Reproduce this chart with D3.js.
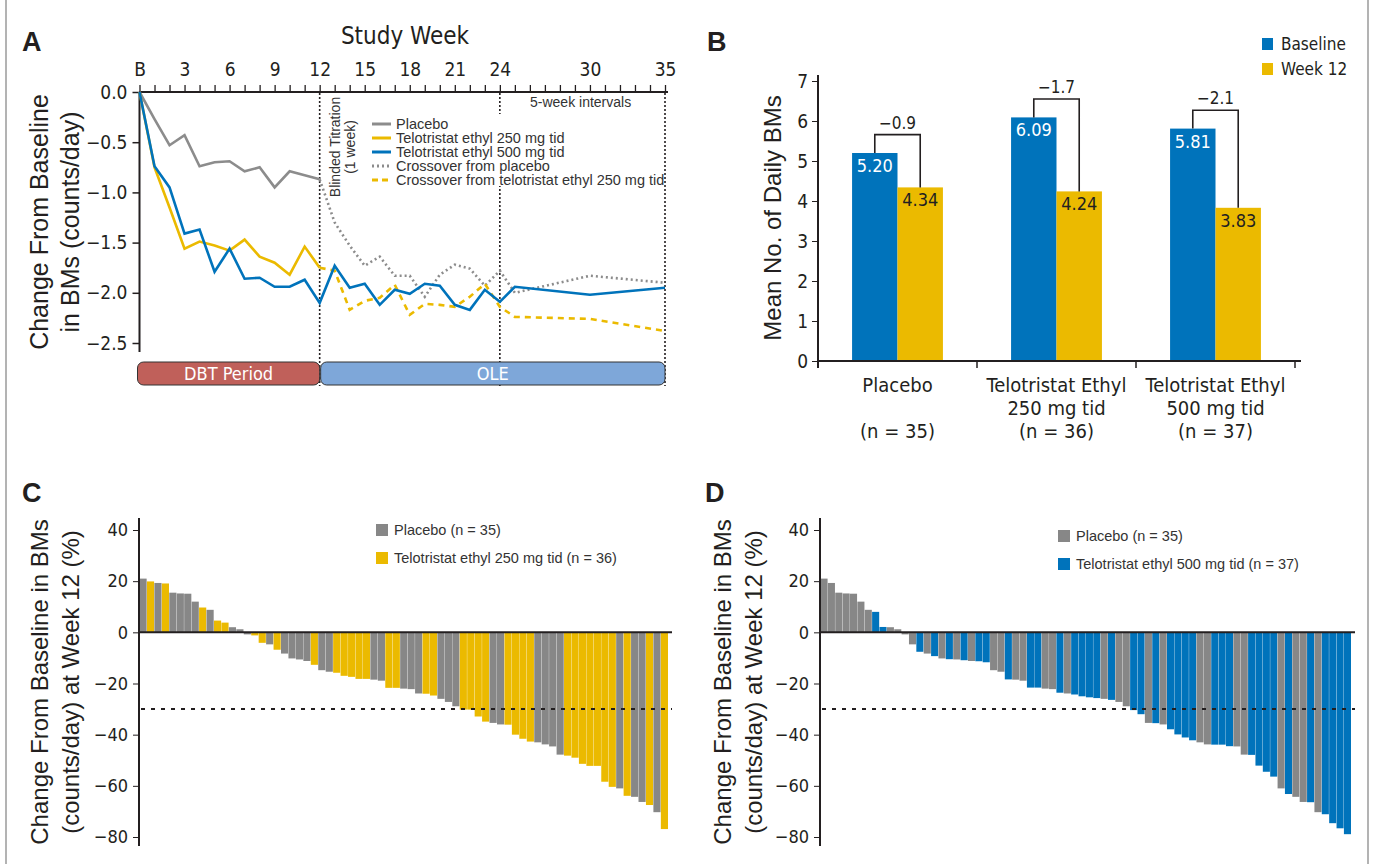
<!DOCTYPE html>
<html>
<head>
<meta charset="utf-8">
<script src="https://cdn.jsdelivr.net/npm/d3@7"></script>
<style>
  body { margin: 0; background: #fff; }
  svg { display: block; }
</style>
</head>
<body>
<svg id="chart" width="1376" height="864"></svg>
<script>
// ---------- Panel A: change from baseline by study week ----------
const dbtWeeks = [0, 1, 2, 3, 4, 5, 6, 7, 8, 9, 10, 11, 12];
const placeboDbt = [0, -0.27, -0.53, -0.43, -0.74, -0.70, -0.69, -0.79, -0.75, -0.95, -0.79, -0.83, -0.87];
const tid250Dbt = [0, -0.75, -1.15, -1.56, -1.49, -1.53, -1.58, -1.47, -1.64, -1.70, -1.82, -1.54, -1.75];
const tid500Dbt = [0, -0.74, -0.95, -1.41, -1.37, -1.79, -1.56, -1.86, -1.85, -1.94, -1.94, -1.87, -2.10];
const oleWeeks = [12, 13, 14, 15, 16, 17, 18, 19, 20, 21, 22, 23, 24, 25, 30, 35];
const tid500Ole = [-2.10, -1.73, -1.95, -1.91, -2.12, -1.97, -2.01, -1.91, -1.93, -2.12, -2.17, -1.97, -2.09, -1.94, -2.02, -1.95];
const crossPlaceboOle = [-0.87, -1.30, -1.53, -1.73, -1.64, -1.83, -1.83, -2.04, -1.82, -1.72, -1.76, -1.93, -1.78, -2.00, -1.83, -1.90];
const cross250Ole = [-1.75, -1.78, -2.17, -2.08, -2.05, -1.92, -2.22, -2.11, -2.12, -2.14, -2.04, -1.91, -2.14, -2.24, -2.26, -2.38];
const weekTickValues = [0, 3, 6, 9, 12, 15, 18, 21, 24, 30, 35];
const weekTickLabels = ['B', '3', '6', '9', '12', '15', '18', '21', '24', '30', '35'];
const changeTicks = [0, -0.5, -1, -1.5, -2, -2.5];
const periodMarks = [12, 24, 35];

// ---------- Panel B: mean daily BMs ----------
const groupNames = ['Placebo', 'Telotristat Ethyl 250 mg tid', 'Telotristat Ethyl 500 mg tid'];
const groupLines = [['Placebo', ''], ['Telotristat Ethyl', '250 mg tid'], ['Telotristat Ethyl', '500 mg tid']];
const groupN = ['(n = 35)', '(n = 36)', '(n = 37)'];
const seriesNames = ['Baseline', 'Week 12'];
const baselineMeans = [5.20, 6.09, 5.81];
const week12Means = [4.34, 4.24, 3.83];
const meanChanges = [-0.9, -1.7, -2.1];

// ---------- Panels C and D: % change per patient at week 12 ----------
const placeboPct = [21.0, 19.3, 15.5, 15.2, 15.1, 12.0, 8.8, 2.0, 1.2, -0.8, -4.7, -8.3, -10.2, -10.6, -11.2,
  -14.8, -15.4, -18.5, -18.9, -22.0, -22.2, -23.9, -26.0, -27.2, -28.9, -35.4, -36.0, -43.0, -43.8, -44.6,
  -47.8, -61.0, -64.3, -66.3, -70.3];
const tid250Pct = [19.9, 19.1, 9.7, 4.6, 3.8, -1.2, -4.1, -6.8, -12.7, -15.8, -17.0, -17.4, -18.2, -18.2,
  -21.7, -21.7, -24.0, -24.7, -30.2, -30.2, -32.9, -34.9, -36.1, -40.0, -41.6, -42.7, -48.2, -49.0, -51.4,
  -52.2, -52.2, -58.4, -60.4, -63.9, -67.5, -76.9];
const tid500Pct = [8.0, 2.1, -7.6, -9.3, -10.5, -10.9, -11.3, -11.7, -18.4, -21.6, -21.6, -23.6, -24.3, -25.0,
  -25.4, -25.7, -26.4, -30.4, -32.0, -35.5, -37.9, -39.9, -41.1, -42.2, -43.9, -43.9, -44.5, -47.9, -52.1,
  -54.5, -56.4, -63.2, -66.4, -71.1, -74.6, -76.6, -78.9];
const pctTicks = [40, 20, 0, -20, -40, -60, -80];
const responderCut = -30;

// ---------- styles ----------
const svg = d3.select('#chart');
const ink = '#231f20';
const grayC = '#878787';
const yellowC = '#ebba00';
const blueC = '#0073bb';
const narrow = "'Liberation Sans Narrow', 'DejaVu Sans Condensed', 'Arial Narrow', sans-serif";
const plain = "'Liberation Sans', Arial, Helvetica, sans-serif";

// page frame lines
[6, 1368].forEach(x => {
  svg.append('line').attr('x1', x).attr('x2', x).attr('y1', 0).attr('y2', 864)
    .attr('stroke', '#9a9a9a').attr('stroke-width', 1.5);
});

// panel letters
[['A', 22, 51], ['B', 707, 51], ['C', 22, 502], ['D', 705, 502]].forEach(([t, x, y]) => {
  svg.append('text').attr('x', x).attr('y', y).text(t)
    .attr('font-family', plain).attr('font-weight', 'bold').attr('font-size', 27).attr('fill', ink);
});

// helper for rotated (two line) axis titles
function rotTitle(lines, xs, cy, size) {
  lines.forEach((t, i) => {
    svg.append('text')
      .attr('transform', `translate(${xs[i]},${cy}) rotate(-90)`)
      .attr('text-anchor', 'middle')
      .attr('font-family', plain).attr('font-size', size).attr('fill', ink)
      .text(t);
  });
}

// ===================== Panel A =====================
const xA = d3.scaleLinear().domain([0, 35]).range([139.5, 665]);
const yA = d3.scaleLinear().domain([-2.5, 0]).range([343, 92]);
const gA = svg.append('g').attr('id', 'panelA');

// dotted period markers
periodMarks.forEach(w => {
  gA.append('line').attr('x1', xA(w)).attr('x2', xA(w)).attr('y1', 93).attr('y2', 386)
    .attr('stroke', ink).attr('stroke-width', 1.6).attr('stroke-dasharray', '2,2');
});

// period bands under the plot
const bands = [['DBT Period', 0, 12, '#c0605a'], ['OLE', 12, 35, '#7ea7d9']];
bands.forEach(([name, a, b, fill], i) => {
  const x0 = xA(a) - (i === 0 ? 2 : -1);
  const x1 = xA(b);
  gA.append('rect').attr('x', x0).attr('y', 362).attr('width', x1 - x0).attr('height', 23)
    .attr('rx', 6).attr('fill', fill).attr('stroke', '#333').attr('stroke-width', 1);
  gA.append('text').attr('x', (x0 + x1) / 2).attr('y', 380).attr('text-anchor', 'middle')
    .attr('font-family', narrow).attr('font-size', 18).attr('fill', '#fff').text(name);
});

// top axis (study week)
const topAxis = d3.axisTop(xA).tickValues(d3.range(0, 36)).tickSize(7).tickPadding(9).tickSizeOuter(0)
  .tickFormat(d => { const k = weekTickValues.indexOf(d); return k >= 0 ? weekTickLabels[k] : ''; });
const gTop = gA.append('g').attr('transform', 'translate(0,92)').call(topAxis)
  .attr('font-family', narrow).attr('font-size', 19).style('color', ink);
gTop.select('.domain').attr('stroke-width', 2).attr('d', `M${xA(0)},0H668`);
gTop.selectAll('.tick line').attr('stroke-width', 1.3);

gA.append('text').attr('x', 405).attr('y', 44).attr('text-anchor', 'middle')
  .attr('font-family', narrow).attr('font-size', 24).attr('fill', ink).text('Study Week');

// left axis
const leftA = d3.axisLeft(yA).tickValues(changeTicks).tickFormat(d3.format('.1f')).tickSize(7).tickPadding(5);
const gLeftA = gA.append('g').attr('transform', `translate(${xA(0)},0)`).call(leftA)
  .attr('font-family', narrow).attr('font-size', 19).style('color', ink);
gLeftA.select('.domain').attr('stroke-width', 2).attr('d', 'M0,92V352');
gLeftA.selectAll('.tick line').attr('stroke-width', 1.5);

rotTitle(['Change From Baseline', 'in BMs (counts/day)'], [48, 79], 222, 25);

// annotations
gA.append('text').attr('transform', 'translate(340,147) rotate(-90)').attr('text-anchor', 'middle')
  .attr('font-family', plain).attr('font-size', 14).attr('fill', '#333').text('Blinded Titration');
gA.append('text').attr('transform', 'translate(355,147) rotate(-90)').attr('text-anchor', 'middle')
  .attr('font-family', plain).attr('font-size', 14).attr('fill', '#333').text('(1 week)');
gA.append('text').attr('x', 530).attr('y', 107)
  .attr('font-family', plain).attr('font-size', 14).attr('fill', '#333').text('5-week intervals');

// legend (white box hides the week 24 marker behind it)
gA.append('rect').attr('x', 364).attr('y', 114).attr('width', 296).attr('height', 72).attr('fill', '#fff');
const legendA = [
  ['Placebo', '#8c8c8c', null],
  ['Telotristat ethyl 250 mg tid', yellowC, null],
  ['Telotristat ethyl 500 mg tid', blueC, null],
  ['Crossover from placebo', '#8c8c8c', '2,3'],
  ['Crossover from telotristat ethyl 250 mg tid', yellowC, '6,4']
];
legendA.forEach(([label, color, dash], i) => {
  const y = 124 + i * 14;
  gA.append('line').attr('x1', 372).attr('x2', 391).attr('y1', y).attr('y2', y)
    .attr('stroke', color).attr('stroke-width', 3).attr('stroke-dasharray', dash);
  gA.append('text').attr('x', 396).attr('y', y).attr('dy', '.35em')
    .attr('font-family', plain).attr('font-size', 14.5).attr('fill', '#333').text(label);
});

// lines
const lineA = d3.line().x(d => xA(d[0])).y(d => yA(d[1]));
const seriesA = [
  [d3.zip(oleWeeks, crossPlaceboOle), '#8c8c8c', '2,3'],
  [d3.zip(oleWeeks, cross250Ole), yellowC, '6,5'],
  [d3.zip(dbtWeeks, placeboDbt), '#8c8c8c', null],
  [d3.zip(dbtWeeks, tid250Dbt), yellowC, null],
  [d3.zip(dbtWeeks, tid500Dbt).concat(d3.zip(oleWeeks, tid500Ole).slice(1)), blueC, null]
];
seriesA.forEach(([pts, color, dash]) => {
  gA.append('path').datum(pts).attr('d', lineA).attr('fill', 'none')
    .attr('stroke', color).attr('stroke-width', 2.6).attr('stroke-dasharray', dash)
    .attr('stroke-linejoin', 'miter');
});

// ===================== Panel B =====================
const xB = d3.scaleBand().domain(groupNames).range([818, 1295]);
const xS = d3.scaleBand().domain(seriesNames).range([0, xB.bandwidth()]).paddingInner(0).paddingOuter(0.75);
const yB = d3.scaleLinear().domain([0, 7]).range([361, 81]);
const gB = svg.append('g').attr('id', 'panelB');
const fmt2 = d3.format('.2f');

groupNames.forEach((g, i) => {
  const vals = [baselineMeans[i], week12Means[i]];
  seriesNames.forEach((s, j) => {
    const x = xB(g) + xS(s);
    gB.append('rect').attr('x', x).attr('y', yB(vals[j])).attr('width', xS.bandwidth())
      .attr('height', yB(0) - yB(vals[j])).attr('fill', j === 0 ? blueC : yellowC);
    gB.append('text').attr('x', x + xS.bandwidth() / 2).attr('y', yB(vals[j]) + 19)
      .attr('text-anchor', 'middle').attr('font-family', narrow).attr('font-size', 18)
      .attr('fill', j === 0 ? '#fff' : ink).text(fmt2(vals[j]));
  });
  // bracket with the mean change
  const cx0 = xB(g) + xS('Baseline') + xS.bandwidth() / 2;
  const cx1 = xB(g) + xS('Week 12') + xS.bandwidth() / 2;
  const top = yB(baselineMeans[i] + 0.46);
  gB.append('path').attr('d', `M${cx0},${yB(baselineMeans[i])}V${top}H${cx1}V${yB(week12Means[i])}`)
    .attr('fill', 'none').attr('stroke', ink).attr('stroke-width', 1.6);
  gB.append('text').attr('x', (cx0 + cx1) / 2).attr('y', top - 6).attr('text-anchor', 'middle')
    .attr('font-family', narrow).attr('font-size', 17).attr('fill', ink).text(d3.format('.1f')(meanChanges[i]));
  // category labels
  const lx = xB(g) + xB.bandwidth() / 2;
  [groupLines[i][0], groupLines[i][1], groupN[i]].forEach((t, k) => {
    gB.append('text').attr('x', lx).attr('y', 392 + k * 23).attr('text-anchor', 'middle')
      .attr('font-family', narrow).attr('font-size', 20).attr('fill', ink).text(t);
  });
});

// axes for B
const leftB = d3.axisLeft(yB).ticks(7).tickSize(6).tickPadding(4);
const gLeftB = gB.append('g').attr('transform', `translate(818,0)`).call(leftB)
  .attr('font-family', narrow).attr('font-size', 19).style('color', ink);
gLeftB.select('.domain').attr('stroke-width', 2).attr('d', 'M0,75V368');
gB.append('line').attr('x1', 818).attr('x2', 1301).attr('y1', yB(0)).attr('y2', yB(0))
  .attr('stroke', ink).attr('stroke-width', 2.2);
groupNames.map(g => xB(g)).concat([xB.range()[1]]).forEach(x => {
  gB.append('line').attr('x1', x).attr('x2', x).attr('y1', yB(0)).attr('y2', yB(0) + 7)
    .attr('stroke', ink).attr('stroke-width', 1.5);
});
rotTitle(['Mean No. of Daily BMs'], [781], 218, 24);

// legend for B
seriesNames.forEach((s, j) => {
  gB.append('rect').attr('x', 1262).attr('y', 38 + j * 25).attr('width', 11).attr('height', 12)
    .attr('fill', j === 0 ? blueC : yellowC);
  gB.append('text').attr('x', 1281).attr('y', 44 + j * 25).attr('dy', '.35em')
    .attr('font-family', narrow).attr('font-size', 17).attr('fill', ink).text(s);
});

// ===================== Panels C and D (waterfalls) =====================
const yW = d3.scaleLinear().domain([-80, 40]).range([837, 530]);

function drawWaterfall(id, armValues, armColor, armLabel, axisX, endX, titleXs, legendX, legendY) {
  const g = svg.append('g').attr('id', id);
  const rows = placeboPct.map(v => ({ v: v, arm: 'placebo' }))
    .concat(armValues.map(v => ({ v: v, arm: 'active' })));
  rows.sort((a, b) => b.v - a.v);
  const xW = d3.scaleBand().domain(d3.range(rows.length)).range([axisX + 0.5, endX]).paddingInner(0.04);

  g.selectAll('rect.bar').data(rows).join('rect').attr('class', 'bar')
    .attr('x', (d, i) => xW(i))
    .attr('width', xW.bandwidth())
    .attr('y', d => yW(Math.max(0, d.v)))
    .attr('height', d => Math.abs(yW(d.v) - yW(0)))
    .attr('fill', d => d.arm === 'placebo' ? grayC : armColor);

  // zero line and responder threshold
  g.append('line').attr('x1', axisX).attr('x2', endX + 4).attr('y1', yW(0)).attr('y2', yW(0))
    .attr('stroke', ink).attr('stroke-width', 2);
  g.append('line').attr('x1', axisX + 2).attr('x2', endX + 4).attr('y1', yW(responderCut)).attr('y2', yW(responderCut))
    .attr('stroke', ink).attr('stroke-width', 2).attr('stroke-dasharray', '4,6');

  const ax = d3.axisLeft(yW).tickValues(pctTicks).tickSize(6).tickPadding(5);
  const gAx = g.append('g').attr('transform', `translate(${axisX},0)`).call(ax)
    .attr('font-family', narrow).attr('font-size', 18).style('color', ink);
  gAx.select('.domain').attr('stroke-width', 2).attr('d', 'M0,518V846');

  rotTitle(['Change From Baseline in BMs', '(counts/day) at Week 12 (%)'], titleXs, 682, 24);

  [['Placebo (n = 35)', grayC], [armLabel, armColor]].forEach(([t, c], k) => {
    g.append('rect').attr('x', legendX).attr('y', legendY - 6 + k * 28).attr('width', 12).attr('height', 12).attr('fill', c);
    g.append('text').attr('x', legendX + 18).attr('y', legendY + k * 28).attr('dy', '.35em')
      .attr('font-family', plain).attr('font-size', 14.5).attr('fill', '#333').text(t);
  });
}

drawWaterfall('panelC', tid250Pct, yellowC, 'Telotristat ethyl 250 mg tid (n = 36)', 139, 668, [48, 79], 376, 530);
drawWaterfall('panelD', tid500Pct, blueC, 'Telotristat ethyl 500 mg tid (n = 37)', 820, 1351, [731, 762], 1058, 536);
</script>
</body>
</html>
